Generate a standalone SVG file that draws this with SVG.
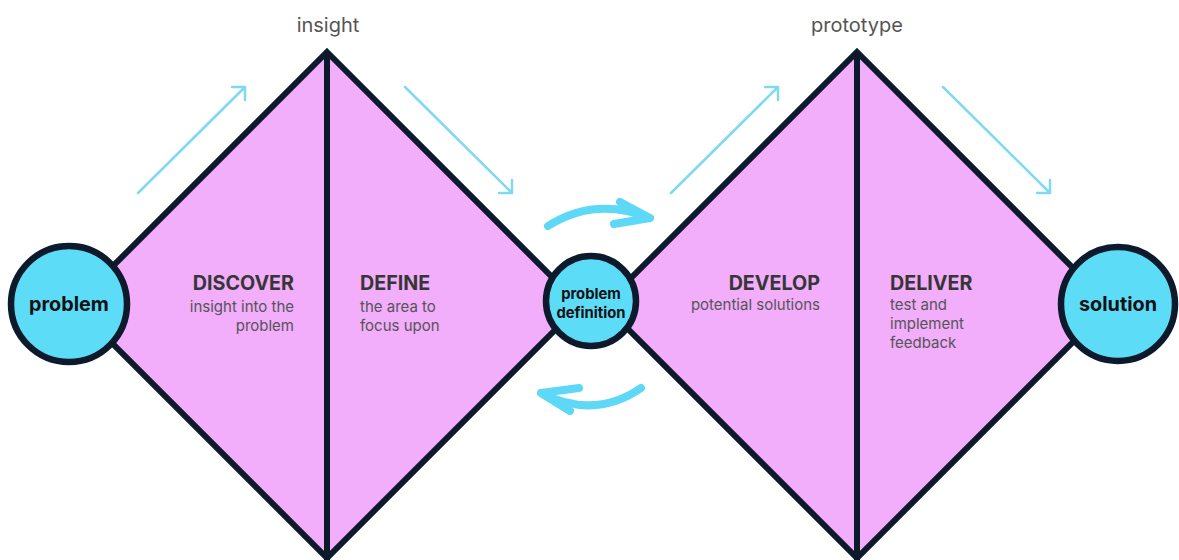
<svg xmlns="http://www.w3.org/2000/svg" width="1179" height="560" viewBox="0 0 1179 560">
  <style>
    .diamond { fill: #F2ADFB; stroke: #0D1A2B; stroke-width: 6; stroke-linejoin: miter; }
    .divider { stroke: #0D1A2B; stroke-width: 6; }
    .node { fill: #5DDCF8; stroke: #0D1A2B; stroke-width: 6.5; }
    .node-text { font-family: Inter, "Liberation Sans", sans-serif; font-weight: 700; fill: #111111; text-anchor: middle; }
    .phase { font-family: Inter, "Liberation Sans", sans-serif; font-weight: 700; font-size: 19.7px; fill: #363636; }
    .desc { font-family: Inter, "Liberation Sans", sans-serif; font-size: 15px; fill: #555555; }
    .milestone { font-family: Inter, "Liberation Sans", sans-serif; font-size: 20px; fill: #555555; text-anchor: middle; }
    .flow { stroke: #7FD9F2; stroke-width: 2.5; fill: none; stroke-linecap: round; stroke-linejoin: round; }
    .loop { stroke: #5DD8F7; stroke-width: 8; fill: none; stroke-linecap: round; stroke-linejoin: round; }
  </style>

  <!-- Discover / Define diamond -->
  <g id="diamond-left">
    <path class="diamond" d="M327 52 L580 305 L327 558 L74 305 Z"/>
    <line class="divider" x1="327" y1="52" x2="327" y2="560"/>
  </g>

  <!-- Develop / Deliver diamond -->
  <g id="diamond-right">
    <path class="diamond" d="M857 52 L1110 305 L857 558 L604 305 Z"/>
    <line class="divider" x1="857" y1="52" x2="857" y2="560"/>
  </g>

  <!-- Phase labels -->
  <g id="discover">
    <text class="phase" x="294" y="290" text-anchor="end">DISCOVER</text>
    <text class="desc" x="294" y="312" text-anchor="end">insight into the</text>
    <text class="desc" x="294" y="331" text-anchor="end">problem</text>
  </g>
  <g id="define">
    <text class="phase" x="360" y="290">DEFINE</text>
    <text class="desc" x="360" y="312">the area to</text>
    <text class="desc" x="360" y="331">focus upon</text>
  </g>
  <g id="develop">
    <text class="phase" x="820" y="290" text-anchor="end">DEVELOP</text>
    <text class="desc" x="820" y="310" text-anchor="end">potential solutions</text>
  </g>
  <g id="deliver">
    <text class="phase" x="890" y="290">DELIVER</text>
    <text class="desc" x="890" y="310">test and</text>
    <text class="desc" x="890" y="329">implement</text>
    <text class="desc" x="890" y="348">feedback</text>
  </g>

  <!-- Milestones above the diamonds -->
  <g id="insight">
    <text class="milestone" x="328" y="32">insight</text>
  </g>
  <g id="prototype">
    <text class="milestone" x="857" y="32">prototype</text>
  </g>

  <!-- Connectors -->
  <g id="connectors">
    <!-- diverge / converge direction arrows -->
    <path class="flow" d="M138 193 L245 87 M232 87 L245 87 L245 100"/>
    <path class="flow" d="M405 87 L512 193 M512 180 L512 193 L499 193"/>
    <path class="flow" d="M671 193 L778 87 M765 87 L778 87 L778 100"/>
    <path class="flow" d="M943 87 L1050 193 M1050 180 L1050 193 L1037 193"/>
    <!-- iteration loops around the problem definition -->
    <path class="loop" d="M548 226 Q595 196 650 218 M620 202 L650 218 L614 224"/>
    <path class="loop" d="M641 388 Q595 420 541 393 M579 388 L541 393 L570 411"/>
  </g>

  <!-- Nodes -->
  <g id="problem">
    <circle class="node" cx="69" cy="304" r="58"/>
    <text class="node-text" x="69" y="311" font-size="19.8">problem</text>
  </g>
  <g id="problem-definition">
    <circle class="node" cx="591" cy="301" r="45"/>
    <text class="node-text" x="591" y="299" font-size="14.8">problem</text>
    <text class="node-text" x="591" y="318" font-size="14.8">definition</text>
  </g>
  <g id="solution">
    <circle class="node" cx="1118" cy="304" r="57"/>
    <text class="node-text" x="1118" y="311" font-size="19.8">solution</text>
  </g>
</svg>
